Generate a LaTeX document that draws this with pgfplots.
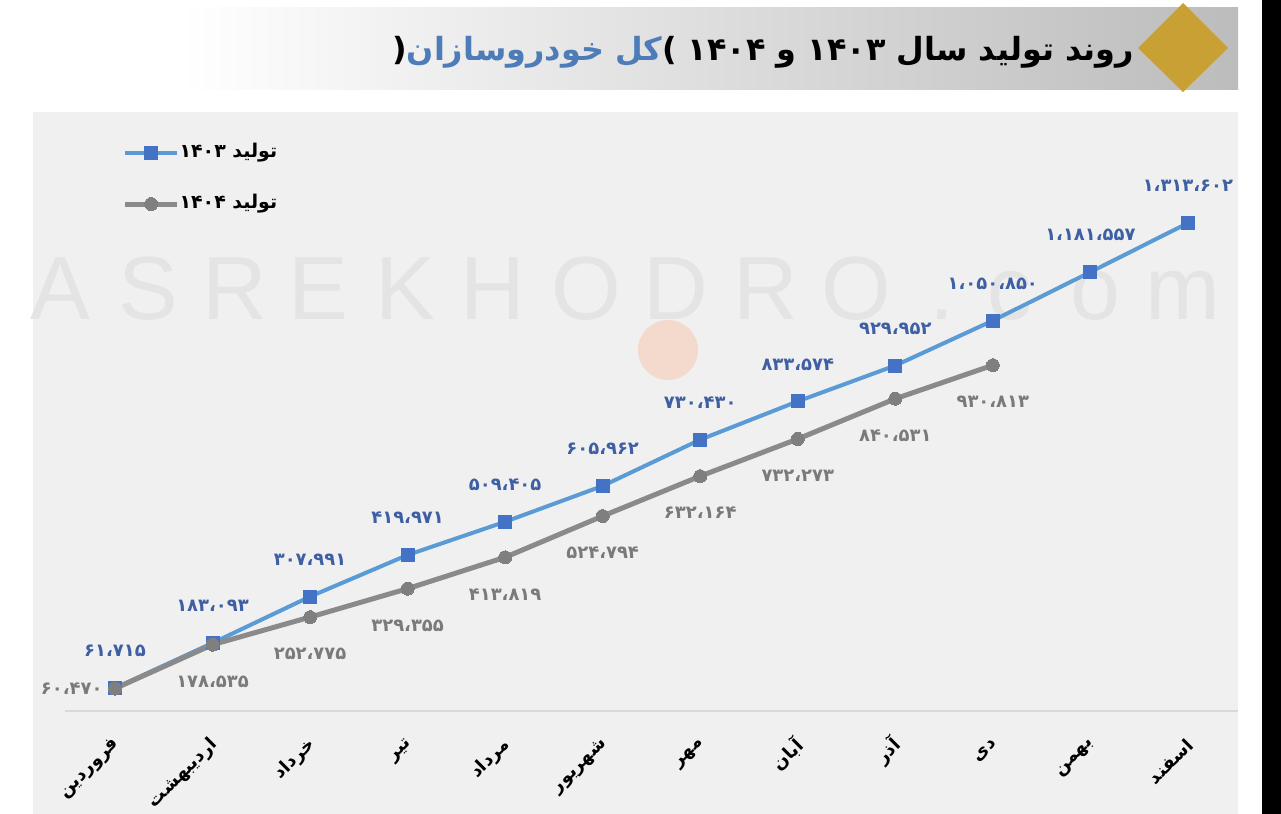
\documentclass[border=0pt]{standalone}
\usepackage{pgfplots}
\pgfplotsset{compat=1.18}
\usepackage{fontspec}
\setmainfont{Liberation Sans}
\newfontfamily\arabicfont[Script=Arabic]{DejaVu Sans}
\definecolor{bgc}{HTML}{F0F0F0}
\definecolor{lineblue}{HTML}{5B9BD5}
\definecolor{markblue}{HTML}{4472C4}
\definecolor{labblue}{HTML}{3E5FA3}
\definecolor{linegray}{HTML}{8A8A8A}
\definecolor{markgray}{HTML}{7F7F7F}
\definecolor{labgray}{HTML}{7A7A7A}
\definecolor{titleblue}{HTML}{4D7CB8}
\definecolor{gold}{HTML}{C9A033}
\definecolor{wm}{HTML}{E4E4E4}
\definecolor{bannergray}{HTML}{BCBCBC}
\definecolor{peach}{HTML}{F3DACC}
\definecolor{axisgray}{HTML}{D9D9D9}
\begin{document}
\begin{tikzpicture}
\useasboundingbox (0bp,0bp) rectangle (1281bp,814bp);
\begin{scope}[x=1bp,y=1bp]
\fill[white] (0,0) rectangle (1281,814);
\fill[black] (1262,0) rectangle (1281,814);
% banner
\shade[left color=white, right color=bannergray] (180,724) rectangle (1238,806);
\fill[gold] (1138,766) -- (1183,811) -- (1228,766) -- (1183,722) -- cycle;
\node[font=\arabicfont\bfseries\fontsize{32}{36}\selectfont, inner sep=0] at (763,762)
  {(\textcolor{titleblue}{خودروسازان کل}) ۱۴۰۴ و ۱۴۰۳ سال تولید روند};
% plot background
\fill[bgc] (33,0) rectangle (1238,702);
\fill[peach] (668,464) circle (30);
% watermark letters
\foreach \c/\xx in {A/60,S/148,R/235,E/318,K/405,H/493,O/586,D/676,R/766,O/856,./942,c/1010,o/1095,m/1183}
  \node[font=\fontsize{90}{90}\selectfont, text=wm, anchor=base, inner sep=0] at (\xx,494) {\c};
\end{scope}
\begin{scope}[shift={(115bp,103bp)}]
\begin{axis}[
  anchor=origin, scale only axis,
  width=1173bp, height=579.5bp,
  xmin=-0.513, xmax=11.513, ymin=0, ymax=1560000,
  axis y line=none, axis x line=bottom,
  x axis line style={draw=axisgray, line width=1.5bp, -},
  xtick={0,...,11}, major tick length=0,
  xticklabels={فروردین,اردیبهشت,خرداد,تیر,مرداد,شهریور,مهر,آبان,آذر,دی,بهمن,اسفند},
  xticklabel style={font=\arabicfont\bfseries\fontsize{18}{20}\selectfont, yshift=-31bp, xshift=2bp, rotate=45, anchor=east, inner sep=0},
  clip=false,
  legend style={at={(0.049,0.977)}, anchor=north west, draw=none, fill=none, inner sep=0,
    font=\arabicfont\bfseries\fontsize{19}{21}\selectfont, row sep=35bp,
    nodes={inner sep=0pt, text height=12bp, text depth=4bp}},
  legend cell align=left,
  legend image code/.code={\draw[mark repeat=2,mark phase=2,#1] plot coordinates {(0bp,0bp) (26bp,0bp) (52bp,0bp)};},
]
\addplot[color=lineblue, line width=4bp, mark=square*, mark size=6.5bp,
  mark options={fill=markblue, draw=markblue, line width=0pt},
  nodes near coords, point meta=explicit symbolic,
  every node near coord/.append style={font=\arabicfont\bfseries\fontsize{18}{20}\selectfont, text=labblue, anchor=center, yshift=37bp}]
coordinates {
(0,61715) [۶۱،۷۱۵]
(1,183093) [۱۸۳،۰۹۳]
(2,307991) [۳۰۷،۹۹۱]
(3,419971) [۴۱۹،۹۷۱]
(4,509405) [۵۰۹،۴۰۵]
(5,605962) [۶۰۵،۹۶۲]
(6,730430) [۷۳۰،۴۳۰]
(7,833574) [۸۳۳،۵۷۴]
(8,929952) [۹۲۹،۹۵۲]
(9,1050850) [۱،۰۵۰،۸۵۰]
(10,1181557) [۱،۱۸۱،۵۵۷]
(11,1313602) [۱،۳۱۳،۶۰۲]
};
\addlegendentry{۱۴۰۳ تولید}
\addplot[color=linegray, line width=5bp, mark=*, mark size=6.5bp,
  mark options={fill=markgray, draw=markgray, line width=0pt},
  nodes near coords, point meta=explicit symbolic,
  every node near coord/.append style={font=\arabicfont\bfseries\fontsize{18}{20}\selectfont, text=labgray, anchor=center, yshift=-37bp}]
coordinates {
(0,60470) []
(1,178535) [۱۷۸،۵۳۵]
(2,252775) [۲۵۲،۷۷۵]
(3,329355) [۳۲۹،۳۵۵]
(4,413819) [۴۱۳،۸۱۹]
(5,524794) [۵۲۴،۷۹۴]
(6,632164) [۶۳۲،۱۶۴]
(7,732273) [۷۳۲،۲۷۳]
(8,840531) [۸۴۰،۵۳۱]
(9,930813) [۹۳۰،۸۱۳]
};
\addlegendentry{۱۴۰۴ تولید}
\addplot[draw=none, mark=none, forget plot,
  nodes near coords, point meta=explicit symbolic,
  every node near coord/.append style={font=\arabicfont\bfseries\fontsize{18}{20}\selectfont, text=labgray, anchor=east, xshift=-9bp}]
coordinates {(0,60470) [۶۰،۴۷۰]};
\end{axis}
\end{scope}
\end{tikzpicture}
\end{document}
